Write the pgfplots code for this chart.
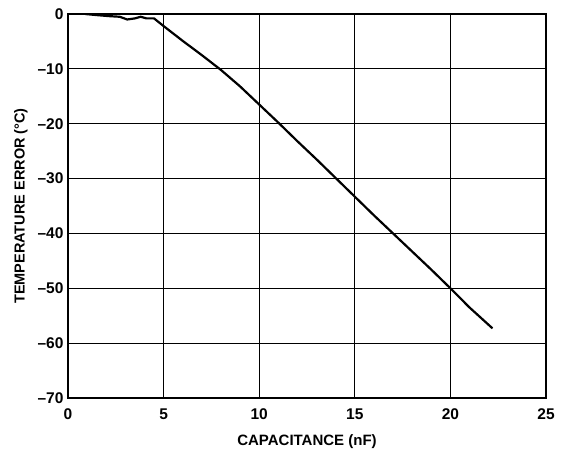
\documentclass[border=0pt]{standalone}
\usepackage{fontspec}
\setmainfont{Liberation Sans}
\usepackage{pgfplots}
\pgfplotsset{compat=1.18}
\begin{document}
\begin{tikzpicture}
\useasboundingbox (-68pt,-52pt) rectangle (496pt,398pt);
\begin{axis}[
  scale only axis,
  width=478pt, height=384pt,
  xmin=0, xmax=25, ymin=-70, ymax=0,
  xtick={0,5,10,15,20,25}, ytick={-70,-60,-50,-40,-30,-20,-10,0},
  xticklabels={\textbf{0},\textbf{5},\textbf{10},\textbf{15},\textbf{20},\textbf{25}},
  yticklabels={\textbf{–70},\textbf{–60},\textbf{–50},\textbf{–40},\textbf{–30},\textbf{–20},\textbf{–10},\textbf{0}},
  grid=major,
  major grid style={black, line width=0.9pt},
  axis line style={black, line width=1.6pt},
  tick style={draw=none},
  xticklabel style={font=\fontsize{15.5}{17}\selectfont\bfseries, yshift=-7pt},
  yticklabel style={font=\fontsize{15.5}{17}\selectfont\bfseries, xshift=-1pt},
  xlabel={CAPACITANCE (nF)},
  ylabel={TEMPERATURE ERROR (°C)},
  xlabel style={font=\fontsize{15}{17}\selectfont\bfseries, yshift=-8pt},
  ylabel style={font=\fontsize{14.5}{17}\selectfont\bfseries, yshift=3pt},
]
\addplot[black, line width=2.2pt, line join=round] coordinates {
(0.9,0) (1.5,-0.2) (2.2,-0.4) (2.7,-0.5) (3.1,-1.0) (3.5,-0.8) (3.8,-0.5)
(4.1,-0.8) (4.5,-0.8) (5,-2.2) (6,-4.9) (7,-7.5) (8,-10.2) (9,-13.2)
(10,-16.5) (11,-19.8) (12,-23.2) (13,-26.5) (14,-29.9) (15,-33.3)
(16,-36.7) (17,-40) (18,-43.3) (19,-46.6) (20,-50) (21,-53.5) (22.2,-57.3)
};
\end{axis}
\end{tikzpicture}
\end{document}
